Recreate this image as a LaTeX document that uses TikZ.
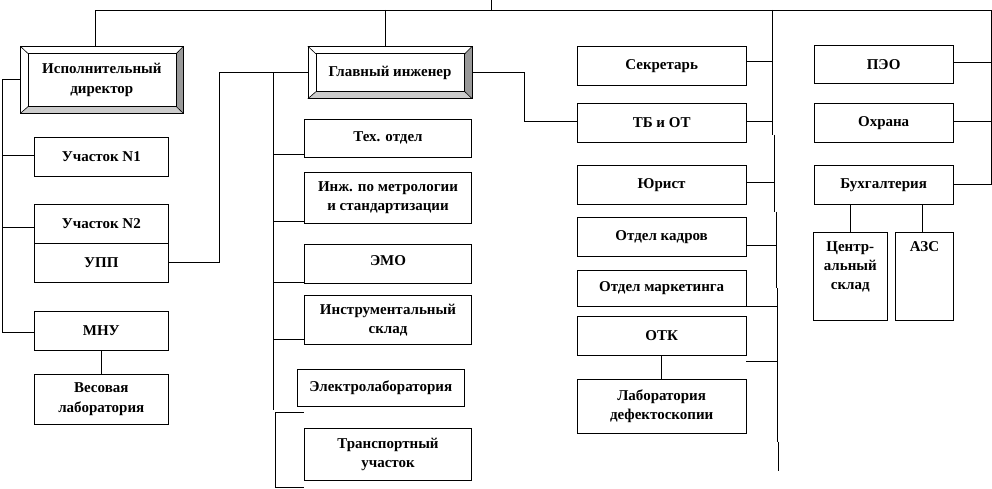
\documentclass[tikz,border=0pt]{standalone}
\usepackage{fontspec}
\setmainfont{Liberation Serif}
\usetikzlibrary{calc}
\begin{document}
\begin{tikzpicture}[x=1pt,y=-1pt,line width=0.8pt,
  box/.style={draw=black, fill=white, inner sep=0pt, align=center,
    font=\fontsize{15}{19.5}\selectfont\bfseries},
  toplab/.style={anchor=north, align=center, inner sep=0pt, yshift=-9pt,
    font=\fontsize{15}{19}\selectfont\bfseries}]
\useasboundingbox (0,0) rectangle (992,489);
% boxes
\node[box, minimum width=162.3, minimum height=66.3] (exec) at (101.85,79.85) {Исполнительный\\директор};
\node[box, minimum width=134, minimum height=39] (u1) at (101.3,156.5) {Участок N1};
\node[box, minimum width=134, minimum height=39] (u2) at (101.3,223.8) {Участок N2};
\node[box, minimum width=134, minimum height=39] (upp) at (101.3,262.8) {УПП};
\node[box, minimum width=134, minimum height=39] (mnu) at (101.3,330.5) {МНУ};
\node[box, minimum width=134, minimum height=49.7] (ves) at (101.3,399.15) {Весовая\\лаборатория};
\node[box, minimum width=163.4, minimum height=51.6] (gi) at (390,72.5) {Главный инженер};
\node[box, minimum width=167.4, minimum height=38.7] (tex) at (388,138.35) {Тех. отдел};
\node[box, minimum width=167.4, minimum height=51] (inzh) at (388,197.8) {Инж. по метрологии\\и стандартизации};
\node[box, minimum width=167.4, minimum height=39] (emo) at (388,263.8) {\raisebox{6pt}{ЭМО}};
\node[box, minimum width=167.4, minimum height=48.6] (instr) at (388,320) {Инструментальный\\склад};
\node[box, minimum width=167, minimum height=37.4] (elab) at (380.8,388) {Электролаборатория};
\node[box, minimum width=167.4, minimum height=52.4] (trans) at (388,454.5) {Транспортный\\участок};
\node[box, minimum width=168.7, minimum height=38.3] (sec) at (661.65,65.85) {Секретарь};
\node[box, minimum width=168.7, minimum height=39.4] (tb) at (661.65,123) {ТБ и ОТ};
\node[box, minimum width=168.7, minimum height=38.3] (jur) at (661.65,184.85) {Юрист};
\node[box, minimum width=168.7, minimum height=38.3] (kadr) at (661.65,236.85) {Отдел кадров};
\node[box, minimum width=168.7, minimum height=35.3] (mark) at (661.65,288.35) {Отдел маркетинга};
\node[box, minimum width=168.7, minimum height=38.3] (otk) at (661.65,335.85) {ОТК};
\node[box, minimum width=168.7, minimum height=54] (lab) at (661.65,406.3) {Лаборатория\\дефектоскопии};
\node[box, minimum width=139.3, minimum height=38.3] (peo) at (883.65,64.15) {ПЭО};
\node[box, minimum width=139.3, minimum height=39.4] (ohr) at (883.65,123) {Охрана};
\node[box, minimum width=139.3, minimum height=38.3] (buh) at (883.65,184.85) {Бухгалтерия};
\node[box, minimum width=74, minimum height=87.7, label={[toplab]north:Центр-\\альный\\склад}] (cs) at (850.3,276.15) {};
\node[box, minimum width=57.6, minimum height=87.7, label={[toplab]north:АЗС}] (azs) at (924.5,276.15) {};
% bevels
\foreach \b in {exec,gi}{
  \coordinate (inw) at ($(\b.north west)+(8,7.5)$);
  \coordinate (ine) at ($(\b.north east)+(-7.3,7.5)$);
  \coordinate (ise) at ($(\b.south east)+(-7.3,-7)$);
  \coordinate (isw) at ($(\b.south west)+(8,-7)$);
  \fill[black!40] (\b.north east) -- (\b.south east) -- (ise) -- (ine) -- cycle;
  \fill[black!20] (\b.south west) -- (\b.south east) -- (ise) -- (isw) -- cycle;
  \draw[line width=0.6pt] (\b.north west) -- (inw) (\b.north east) -- (ine)
        (\b.south east) -- (ise) (\b.south west) -- (isw);
  \draw (inw) rectangle (ise);
  \draw (\b.north west) rectangle (\b.south east);
}
% top line
\coordinate (tl) at (95.7,10);
\coordinate (tr) at (991,10);
\coordinate (tg) at (385.7,10);
\coordinate (ts) at (491.7,0);
\draw (exec.north -| tl) -- (tl) -- (tr) |- (buh.east);
\draw (tg) -- (tg |- gi.north);
\draw (ts) -- (ts |- tl);
% left trunk
\coordinate (lt) at (2,0);
\draw (exec.west) -| ($(lt |- mnu.west)+(0,2)$) -- ($(mnu.west)+(0,2)$);
\draw ($(u1.west)+(0,-1.5)$) coordinate (a) -- (a -| lt);
\draw ($(u2.west)+(0,4)$) coordinate (a) -- (a -| lt);
\draw (mnu.south) -- (ves.north);
% UPP to chief engineer
\draw (upp.east) -- ++(51,0) |- (gi.west);
% middle trunk
\coordinate (mt) at (273,0);
\coordinate (mtend) at (273,409.5);
\draw (gi.west -| mt) -- (mtend);
\draw ($(tex.south west)+(0,-3.4)$) coordinate (a) -- (a -| mt);
\draw ($(inzh.south west)+(0,-2.3)$) coordinate (a) -- (a -| mt);
\draw ($(emo.south west)+(0,-1)$) coordinate (a) -- (a -| mt);
\draw ($(instr.south west)+(0,-5)$) coordinate (a) -- (a -| mt);
\coordinate (lt2) at (275,412);
\coordinate (lb2) at (275,487.3);
\draw (trans.west |- lt2) -- (lt2) -- (lb2) -- (trans.west |- lb2);
% chief engineer to TB
\draw (gi.east) -- ++(52.6,0) |- ($(tb.west)+(0,-1.3)$);
% right trunk
\coordinate (r1) at (772.3,10);
\coordinate (r2) at (772.3,135);
\coordinate (r3) at (774,135);
\coordinate (r4) at (774,211.7);
\coordinate (r5) at (776,211.7);
\coordinate (r6) at (776,288.3);
\coordinate (r7) at (777.3,288.3);
\coordinate (r8) at (777.3,441.7);
\coordinate (r9) at (778.3,441.7);
\coordinate (r10) at (778.3,470.7);
\draw (r1) -- (r2) (r3) -- (r4) (r5) -- (r6) (r7) -- (r8) (r9) -- (r10);
\draw ($(sec.east)+(0,-4)$) coordinate (a) -- (a -| r1);
\draw ($(tb.east)+(0,-1.3)$) coordinate (a) -- (a -| r1);
\draw ($(jur.east)+(0,-2)$) coordinate (a) -- (a -| r3);
\draw ($(kadr.east)+(0,9)$) coordinate (a) -- (a -| r5);
\draw (mark.south east) -- (mark.south east -| r7);
\draw ($(otk.south east)+(0,6)$) coordinate (a) -- (a -| r7);
\draw (otk.south) -- (lab.north);
% right column
\draw ($(peo.east)+(0,-2)$) coordinate (a) -- (a -| tr);
\draw ($(ohr.east)+(0,-1.3)$) coordinate (a) -- (a -| tr);
\draw (cs.north) -- (cs.north |- buh.south);
\draw ($(azs.north)+(-1.8,0)$) coordinate (a) -- (a |- buh.south);
\end{tikzpicture}
\end{document}
